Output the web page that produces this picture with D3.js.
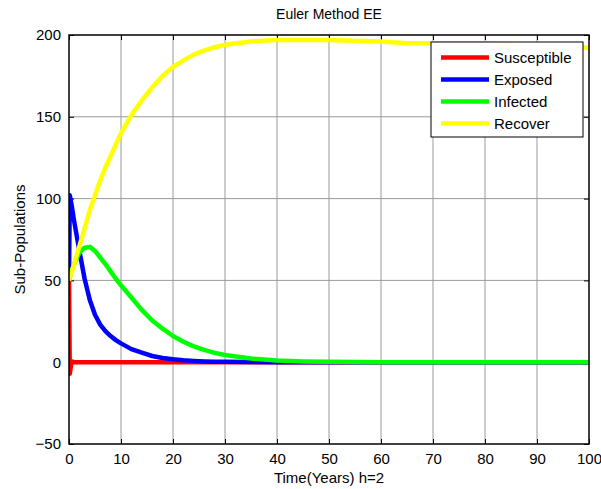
<!DOCTYPE html>
<html><head><meta charset="utf-8">
<script src="https://cdn.jsdelivr.net/npm/d3@7"></script>
<style>body{margin:0;background:#fff}text{font-family:"Liberation Sans",Arial,sans-serif}</style>
</head><body>
<svg id="c" width="601" height="489"></svg>
<script>
const time = [0,0.15,0.5,1,2,3,4,5,6,7,8,9,10,12,14,16,18,20,22,24,26,28,30,35,40,45,50,55,60,65,70,75,80,85,90,95,100];
const susceptible = [50,-7,0.5,0,0,0,0,0,0,0,0,0,0,0,0,0,0,0,0,0,0,0,0,0,0,0,0,0,0,0,0,0,0,0,0,0,0];
const exposed = [50,102,96,86,68,51,38,29,23,19,16,13.5,11.5,8,5.8,3.8,2.6,1.8,1.2,0.8,0.5,0.3,0.2,0.1,0,0,0,0,0,0,0,0,0,0,0,0,0];
const infected = [50,52,56,60,67,70,70.5,68,64,60,55.5,51,47,39.5,32,25.5,20.5,16,12.5,9.7,7.5,5.7,4.4,2.2,1.1,0.5,0.2,0.1,0,0,0,0,0,0,0,0,0];
const recovered = [50,52,55,60,71,82,93,102,111,119,126,133,140,151,160,168,175,180.5,184.5,188,190.5,192.5,194,196,197,197,197,196.5,196,195,195,195,195,194.5,194,193.5,192];
const seriesNames = ["Susceptible","Exposed","Infected","Recover"];
const seriesColors = ["#ff0000","#0000ff","#00ff00","#ffff00"];
const xTicks = [0,10,20,30,40,50,60,70,80,90,100];
const yTicks = [-50,0,50,100,150,200];
const title = "Euler Method EE";
const xLabel = "Time(Years) h=2";
const yLabel = "Sub-Populations";

const series = [susceptible, exposed, infected, recovered];
const L = 69, R = 589, T = 35, B = 444;
const svg = d3.select("#c");
const x = d3.scaleLinear().domain([0,100]).range([L,R]);
const y = d3.scaleLinear().domain([-50,200]).range([B,T]);
const fs = 15;

// grid
svg.append("g").selectAll("line").data(xTicks.slice(1,-1)).join("line")
  .attr("x1",d=>x(d)).attr("x2",d=>x(d)).attr("y1",T).attr("y2",B)
  .attr("stroke","#9a9a9a").attr("stroke-width",1);
svg.append("g").selectAll("line").data(yTicks.slice(1,-1)).join("line")
  .attr("y1",d=>y(d)).attr("y2",d=>y(d)).attr("x1",L).attr("x2",R)
  .attr("stroke","#9a9a9a").attr("stroke-width",1);

// axes with inward ticks
const ax = (g, axis) => g.call(axis).call(s=>s.select(".domain").remove())
  .call(s=>s.selectAll("line").attr("stroke","#000"))
  .call(s=>s.selectAll("text").attr("font-size",fs).attr("font-family","Liberation Sans, Arial, sans-serif").attr("fill","#000"));
ax(svg.append("g").attr("transform",`translate(0,${B})`), d3.axisBottom(x).tickValues(xTicks).tickSize(-5).tickPadding(9).tickFormat(d3.format("d")));
ax(svg.append("g").attr("transform",`translate(0,${T})`), d3.axisTop(x).tickValues(xTicks).tickSize(-5).tickFormat(""));
ax(svg.append("g").attr("transform",`translate(${L},0)`), d3.axisLeft(y).tickValues(yTicks).tickSize(-5).tickPadding(8).tickFormat(d3.format("d")));
ax(svg.append("g").attr("transform",`translate(${R},0)`), d3.axisRight(y).tickValues(yTicks).tickSize(-5).tickFormat(""));

// lines
const clip = svg.append("clipPath").attr("id","pc").append("rect").attr("x",L).attr("y",T).attr("width",R-L).attr("height",B-T);
const line = d3.line().x((d,i)=>x(time[i])).y(d=>y(d));
svg.append("g").attr("clip-path","url(#pc)").selectAll("path").data(series).join("path")
  .attr("d",d=>line(d)).attr("fill","none").attr("stroke",(d,i)=>seriesColors[i])
  .attr("stroke-width",4.5).attr("stroke-linejoin","round");

// box
svg.append("rect").attr("x",L).attr("y",T).attr("width",R-L).attr("height",B-T)
  .attr("fill","none").attr("stroke","#000").attr("stroke-width",1.5);

// legend
const lg = svg.append("g");
lg.append("rect").attr("x",431).attr("y",42).attr("width",152).attr("height",95)
  .attr("fill","#fff").attr("stroke","#000").attr("stroke-width",1);
seriesNames.forEach((n,i)=>{
  const yy = 57.5 + i*22;
  lg.append("line").attr("x1",441).attr("x2",489).attr("y1",yy).attr("y2",yy)
    .attr("stroke",seriesColors[i]).attr("stroke-width",4.5);
  lg.append("text").attr("x",494).attr("y",yy).attr("dy","0.35em").attr("font-size",fs).text(n);
});

// titles
svg.append("text").attr("x",(L+R)/2).attr("y",19).attr("text-anchor","middle").attr("font-size",fs-1).text(title);
svg.append("text").attr("x",(L+R)/2).attr("y",483).attr("text-anchor","middle").attr("font-size",fs).text(xLabel);
svg.append("text").attr("transform",`translate(25,${(T+B)/2}) rotate(-90)`).attr("text-anchor","middle").attr("font-size",fs).text(yLabel);
</script>
</body></html>
